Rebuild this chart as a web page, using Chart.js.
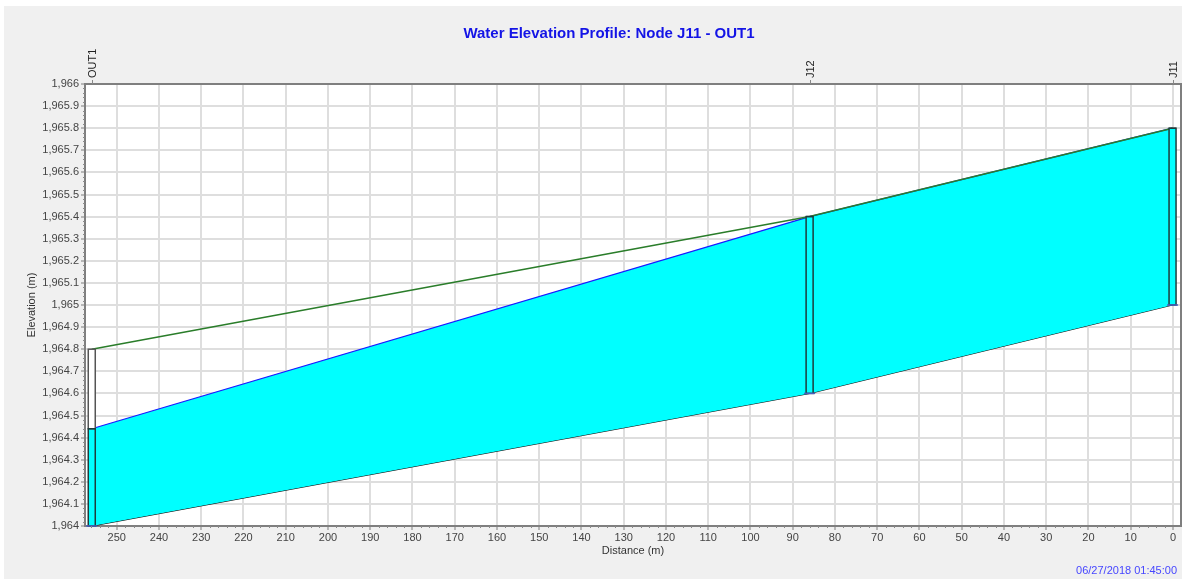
<!DOCTYPE html>
<html>
<head>
<meta charset="utf-8">
<script src="https://cdn.jsdelivr.net/npm/chart.js@4/dist/chart.umd.min.js"></script>
<style>
  html, body { margin: 0; padding: 0; background: #fff; }
  #wrap { width: 1182px; height: 579px; }
</style>
</head>
<body>
<div id="wrap"><canvas id="profileChart" width="1182" height="579"></canvas></div>
<script>
// Profile data (distance from J11, elevations in m)
const nodeNames = ['OUT1', 'J12', 'J11'];
const nodeDistance = [255.9, 86.0, 0.1];
const invertElev = [1964.0, 1964.6, 1965.0];
const rimElev = [1964.8, 1965.4, 1965.8];
const waterElev = [1964.44, 1965.4, 1965.8];

const chartTitle = 'Water Elevation Profile: Node J11 - OUT1';
const timeStamp = '06/27/2018 01:45:00';
const FONT = '"Liberation Sans", Arial, sans-serif';

function toPoints(values) {
  return nodeDistance.map((d, i) => ({ x: d, y: values[i] }));
}

// Background panel, title, borders, node boxes and node labels
const profileDecor = {
  id: 'profileDecor',
  beforeDraw(chart) {
    const ctx = chart.ctx;
    const area = chart.chartArea;
    ctx.save();
    ctx.fillStyle = '#ffffff';
    ctx.fillRect(0, 0, chart.width, chart.height);
    ctx.fillStyle = '#f0f0f0';
    ctx.fillRect(4, 6, chart.width - 4, chart.height - 6);
    ctx.fillStyle = '#ffffff';
    ctx.fillRect(area.left, area.top, area.right - area.left, area.bottom - area.top);

    ctx.fillStyle = '#1414e6';
    ctx.font = 'bold 15px ' + FONT;
    ctx.textAlign = 'center';
    ctx.textBaseline = 'middle';
    ctx.fillText(chartTitle, 609, 34);
    ctx.restore();
  },
  afterDatasetsDraw(chart) {
    const ctx = chart.ctx;
    const xs = chart.scales.x;
    const ys = chart.scales.y;
    const half = 3.5;
    ctx.save();
    nodeDistance.forEach((d, i) => {
      const xc = xs.getPixelForValue(d);
      const yInv = ys.getPixelForValue(invertElev[i]);
      const yWat = ys.getPixelForValue(waterElev[i]);
      const yRim = ys.getPixelForValue(rimElev[i]);
      ctx.fillStyle = '#ffffff';
      ctx.fillRect(xc - half, yRim, half * 2, yWat - yRim);
      ctx.fillStyle = '#00ffff';
      ctx.fillRect(xc - half, yWat, half * 2, yInv - yWat);
      ctx.strokeStyle = '#555555';
      ctx.lineWidth = 1.5;
      ctx.strokeRect(xc - half, yRim, half * 2, yWat - yRim);
      ctx.strokeStyle = '#1e3c3c';
      ctx.strokeRect(xc - half, yWat, half * 2, yInv - yWat);
      // invert marker
      ctx.strokeStyle = '#4a5fc0';
      ctx.lineWidth = 1.5;
      ctx.beginPath();
      ctx.moveTo(xc - half - 2, yInv);
      ctx.lineTo(xc + half + 2, yInv);
      ctx.stroke();
    });
    ctx.restore();
  },
  afterDraw(chart) {
    const ctx = chart.ctx;
    const area = chart.chartArea;
    const xs = chart.scales.x;
    const ys = chart.scales.y;
    ctx.save();

    // minor ticks
    ctx.strokeStyle = '#8a8a8a';
    ctx.lineWidth = 1;
    ctx.beginPath();
    for (let v = 0; v <= 100; v++) {
      if (v % 5 === 0) continue;
      const y = Math.round(ys.getPixelForValue(1964 + v * 0.02)) + 0.5;
      ctx.moveTo(area.left - 2, y);
      ctx.lineTo(area.left, y);
    }
    for (let m = 0; m <= 256; m += 2) {
      if (m % 10 === 0) continue;
      const x = Math.round(xs.getPixelForValue(m)) + 0.5;
      ctx.moveTo(x, area.bottom);
      ctx.lineTo(x, area.bottom + 2);
    }
    ctx.stroke();

    // top and right border
    ctx.strokeStyle = '#7f7f7f';
    ctx.lineWidth = 2;
    ctx.beginPath();
    ctx.moveTo(area.left, area.top);
    ctx.lineTo(area.right, area.top);
    ctx.lineTo(area.right, area.bottom);
    ctx.stroke();

    // node labels above the plot
    ctx.font = '11px ' + FONT;
    ctx.fillStyle = '#222222';
    nodeNames.forEach((name, i) => {
      const x = xs.getPixelForValue(nodeDistance[i]);
      ctx.strokeStyle = '#888888';
      ctx.lineWidth = 1;
      ctx.beginPath();
      ctx.moveTo(Math.round(x) + 0.5, area.top - 4);
      ctx.lineTo(Math.round(x) + 0.5, area.top);
      ctx.stroke();
      ctx.save();
      ctx.translate(x + 1, area.top - 6);
      ctx.rotate(-Math.PI / 2);
      ctx.textAlign = 'left';
      ctx.textBaseline = 'middle';
      ctx.fillText(name, 0, 0);
      ctx.restore();
    });

    // timestamp
    ctx.fillStyle = '#4646ff';
    ctx.font = '11px ' + FONT;
    ctx.textAlign = 'right';
    ctx.textBaseline = 'middle';
    ctx.fillText(timeStamp, 1177, 571);
    ctx.restore();
  }
};

const ctx = document.getElementById('profileChart');
new Chart(ctx.getContext('2d'), {
  type: 'scatter',
  data: {
    datasets: [
      {
        label: 'Ground',
        data: toPoints(rimElev),
        showLine: true,
        borderColor: '#2a7d2a',
        borderWidth: 1.5,
        pointRadius: 0,
        fill: false
      },
      {
        label: 'Water',
        data: toPoints(waterElev),
        showLine: true,
        borderColor: '#1a1aff',
        borderWidth: 1.2,
        pointRadius: 0,
        backgroundColor: '#00ffff',
        fill: 2
      },
      {
        label: 'Invert',
        data: toPoints(invertElev),
        showLine: true,
        borderColor: '#111111',
        borderWidth: 1.2,
        pointRadius: 0,
        fill: false
      }
    ]
  },
  options: {
    responsive: false,
    animation: false,
    layout: { padding: { top: 84, right: 1, left: 0, bottom: 0 } },
    plugins: {
      legend: { display: false },
      tooltip: { enabled: false },
      title: { display: false }
    },
    scales: {
      x: {
        type: 'linear',
        reverse: true,
        min: -1.9,
        max: 257.5,
        afterFit(scale) { scale.height = 53; },
        grid: { color: '#dedede', lineWidth: 2, tickLength: 4, tickColor: '#7f7f7f', tickWidth: 1 },
        border: { color: '#7f7f7f', width: 2 },
        ticks: {
          stepSize: 10,
          includeBounds: false,
          maxRotation: 0,
          autoSkip: false,
          padding: 1,
          color: '#444444',
          font: { family: FONT, size: 11 },
          callback: v => String(v)
        },
        title: {
          display: true,
          text: 'Distance (m)',
          color: '#333333',
          font: { family: FONT, size: 11 },
          padding: { top: 0, bottom: 21 }
        }
      },
      y: {
        min: 1964,
        max: 1966,
        afterFit(scale) { scale.width = 85; },
        grid: { color: '#dedede', lineWidth: 2, tickLength: 4, tickColor: '#7f7f7f', tickWidth: 1 },
        border: { color: '#7f7f7f', width: 2 },
        ticks: {
          stepSize: 0.1,
          autoSkip: false,
          padding: 2,
          color: '#444444',
          font: { family: FONT, size: 11 },
          callback: v => Number(v).toLocaleString('en-US', { maximumFractionDigits: 1 })
        },
        title: {
          display: true,
          text: 'Elevation (m)',
          color: '#333333',
          font: { family: FONT, size: 11 },
          padding: { top: 25, bottom: 0 }
        }
      }
    }
  },
  plugins: [profileDecor]
});
</script>
</body>
</html>
